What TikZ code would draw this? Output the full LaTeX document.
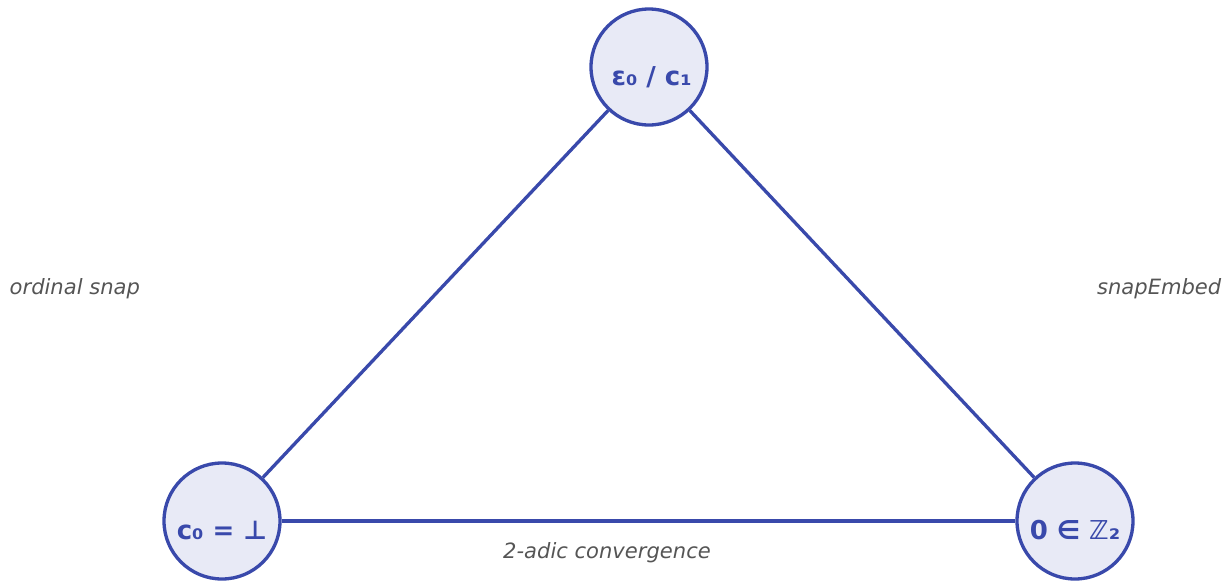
\documentclass[tikz,border=0pt]{standalone}
\usepackage{fontspec}
\setmainfont{DejaVu Sans}
\definecolor{ink}{RGB}{57,73,171}
\definecolor{pale}{RGB}{232,234,246}
\definecolor{soft}{RGB}{85,85,85}
\usetikzlibrary{positioning}

\begin{document}
\begin{tikzpicture}[x=0.75pt,y=-0.75pt,
    vertex/.style={circle,draw=ink,fill=pale,line width=2.5pt,minimum size=87pt,inner sep=0pt,
      text=ink,text height=27pt,text depth=0pt,font=\fontsize{19.5}{22}\selectfont\bfseries},
    edge/.style={ink,line width=2.5pt},
    tag/.style={font=\fontsize{15.8}{18}\selectfont\itshape,text=soft}]
        \useasboundingbox (0,0) rectangle (1232,583);
        \node[vertex] (eps) at (649,67) {\hspace{4pt}ε₀ / c₁};
        \node[vertex] (bot) at (222,521) {c₀ = ⊥};
        \node[vertex] (zero) at (1075,521) {0 ∈ ℤ₂};
        \draw[edge] (eps) -- (bot);
        \draw[edge] (eps) -- (zero);
        \draw[edge] (bot) -- (zero);
        \node[tag,anchor=west] (ordsnap) at (5,289) {ordinal snap};
        \node[tag,anchor=east] (embed) at (1226,289) {snapEmbed};
        \node[tag] (conv) at (607,553) {2-adic convergence};
      \end{tikzpicture}
\end{document}
